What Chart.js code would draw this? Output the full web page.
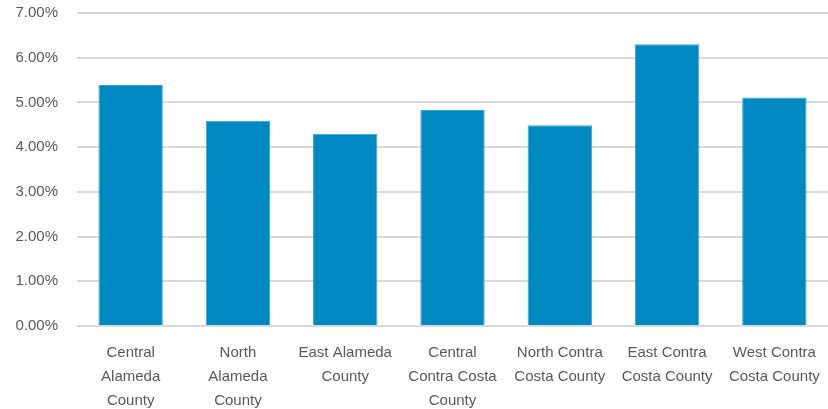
<!DOCTYPE html>
<html>
<head>
<meta charset="utf-8">
<script src="https://cdn.jsdelivr.net/npm/chart.js@4"></script>
<style>
  html, body { margin: 0; padding: 0; background: #fff; }
  #wrap { width: 828px; height: 409px; }
</style>
</head>
<body>
<div id="wrap"><canvas id="chart" width="828" height="409"></canvas></div>
<script>
// Region labels (already split into lines as shown on the axis)
const regions = [
  ['Central', 'Alameda', 'County'],
  ['North', 'Alameda', 'County'],
  ['East Alameda', 'County'],
  ['Central', 'Contra Costa', 'County'],
  ['North Contra', 'Costa County'],
  ['East Contra', 'Costa County'],
  ['West Contra', 'Costa County'],
];

// Rates in percent
const rates = [5.39, 4.59, 4.30, 4.83, 4.49, 6.30, 5.11];

const yMin = 0;
const yMax = 7;
const yStep = 1;

const BAR_COLOR = '#0089C1';
const TEXT_COLOR = '#595959';
const GRID_COLOR = '#D9D9D9';
const FONT = "'Liberation Sans', sans-serif";

const ctx = document.getElementById('chart').getContext('2d');

new Chart(ctx, {
  type: 'bar',
  data: {
    labels: regions,
    datasets: [{
      data: rates,
      backgroundColor: BAR_COLOR,
      borderColor: '#3AA3D0',
      borderWidth: 1,
      categoryPercentage: 1,
      barPercentage: 0.6,
    }],
  },
  options: {
    responsive: false,
    animation: false,
    layout: { padding: { top: 5, right: -7, bottom: 0, left: 0 } },
    plugins: {
      legend: { display: false },
      tooltip: { enabled: false },
    },
    scales: {
      x: {
        grid: { display: false },
        border: { display: false },
        ticks: {
          color: TEXT_COLOR,
          font: { family: FONT, size: 15, lineHeight: 1.6 },
          maxRotation: 0,
          autoSkip: false,
          padding: 7,
        },
        afterFit: (scale) => { scale.height = 83; },
      },
      y: {
        min: yMin,
        max: yMax,
        grid: {
          color: GRID_COLOR,
          lineWidth: 2,
          drawTicks: true,
          tickLength: 15,
          tickColor: 'rgba(0,0,0,0)',
        },
        border: { display: false },
        ticks: {
          stepSize: yStep,
          color: TEXT_COLOR,
          font: { family: FONT, size: 15 },
          padding: 4,
          callback: (v) => v.toFixed(2) + '%',
        },
        afterFit: (scale) => { scale.width = 77; },
      },
    },
  },
});
</script>
</body>
</html>
